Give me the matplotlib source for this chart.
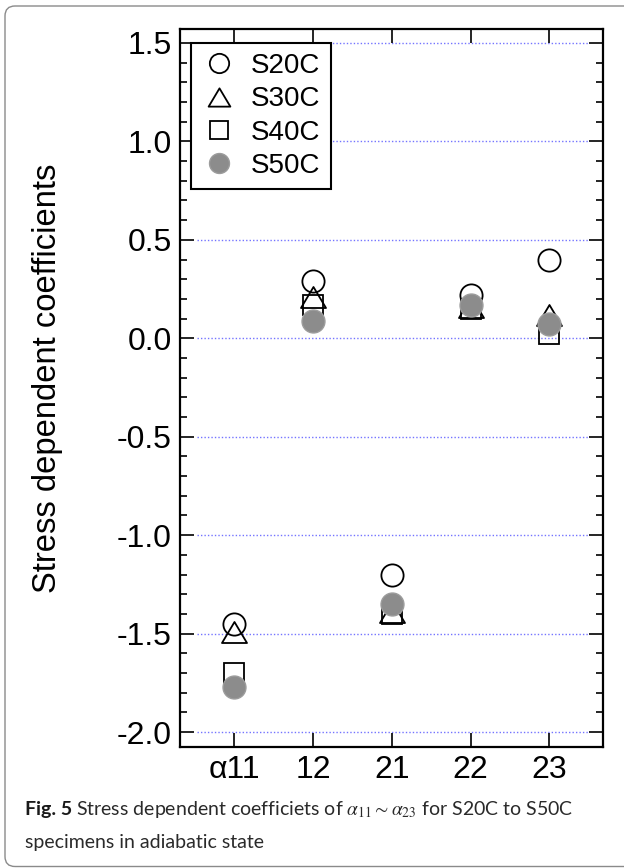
import matplotlib
matplotlib.use('Agg')
import matplotlib.pyplot as plt
from matplotlib.patches import FancyBboxPatch
from matplotlib.ticker import MultipleLocator, FormatStrFormatter
from matplotlib.path import Path

categories = ['α11', '12', '21', '22', '23']
s20c = [-1.45, 0.29, -1.20, 0.22, 0.40]
s30c = [-1.49, 0.21, -1.39, 0.16, 0.12]
s40c = [-1.70, 0.17, -1.40, 0.15, 0.02]
s50c = [-1.77, 0.09, -1.35, 0.17, 0.075]
series_names = ['S20C', 'S30C', 'S40C', 'S50C']
grid_levels = [1.5, 1.0, 0.5, 0.0, -0.5, -1.0, -1.5, -2.0]

plt.rcParams['font.family'] = ['Liberation Sans', 'DejaVu Sans']
plt.rcParams['axes.unicode_minus'] = False
plt.rcParams['mathtext.fontset'] = 'stix'

W, H = 624, 868
fig = plt.figure(figsize=(W / 100, H / 100), dpi=100)
ax = fig.add_axes([180 / W, 1 - 747 / H, 423 / W, 718 / H])

xs = list(range(len(categories)))
tri = Path([(0, 0.42), (-0.5, -0.42), (0.5, -0.42), (0, 0.42)], closed=True)

ax.plot(xs, s20c, ls='none', marker='o', ms=16, mfc='white', mec='black', mew=1.3, label=series_names[0], zorder=3)
ax.plot(xs, s30c, ls='none', marker=tri, ms=18, mfc='none', mec='black', mew=1.3, label=series_names[1], zorder=3)
ax.plot(xs, s40c, ls='none', marker='s', ms=14.4, mfc='none', mec='black', mew=1.3, label=series_names[2], zorder=3)
ax.plot(xs, s50c, ls='none', marker='o', ms=16.5, mfc='#8c8c8c', mec='#9c9c9c', mew=1.0, label=series_names[3], zorder=4)

for g in grid_levels:
    ax.axhline(g, xmin=0.04, xmax=0.965, color='#7474ff', lw=1.0, ls=(0, (1, 1.5)), zorder=1)

ax.set_xlim(-0.69, 4.68)
ax.set_ylim(-2.076, 1.571)
ax.set_xticks(xs)
ax.set_xticklabels(categories)
ax.yaxis.set_major_locator(MultipleLocator(0.5))
ax.yaxis.set_minor_locator(MultipleLocator(0.1))
ax.yaxis.set_major_formatter(FormatStrFormatter('%.1f'))
ax.tick_params(axis='both', which='both', direction='in', top=True, right=True, colors='black')
ax.tick_params(which='major', length=10, width=1.2, labelsize=23, pad=6)
ax.tick_params(which='minor', length=5, width=1.2)
for sp in ax.spines.values():
    sp.set_linewidth(1.6)

leg = ax.legend(loc='upper left', bbox_to_anchor=(0.0253, 0.981), borderaxespad=0,
                fontsize=20, markerscale=0.87, handlelength=1.25, handletextpad=0.55,
                borderpad=0.38, labelspacing=0.26, fancybox=False, framealpha=1,
                edgecolor='black')
leg.get_frame().set_linewidth(1.5)

fig.text(48 / W, 1 - 378 / H, 'Stress dependent coefficients', rotation=90,
         ha='center', va='center', fontsize=23.6)

# caption
cap_font = ['Lato', 'DejaVu Sans']
cap_size = 14.0
t1 = fig.text(25 / W, 1 - 815 / H, 'Fig. 5', fontsize=cap_size, fontweight='bold',
              family=cap_font, color='#1a1a1a', va='baseline')
fig.canvas.draw()
r = fig.canvas.get_renderer()
bb = t1.get_window_extent(r)
fig.text((bb.x1 + 4) / W, 1 - 815 / H,
         r'Stress dependent coefficiets of $\alpha_{11}\sim\alpha_{23}$ for S20C to S50C',
         fontsize=cap_size, family=cap_font, color='#2a2a2a', va='baseline')
fig.text(25 / W, 1 - 848 / H, 'specimens in adiabatic state', fontsize=cap_size,
         family=cap_font, color='#2a2a2a', va='baseline')

box = FancyBboxPatch((5, 1.5), 700, 860.5, boxstyle='round,pad=0,rounding_size=10',
                     transform=None, fill=False, edgecolor='#8a8a8a', lw=1.0)
fig.add_artist(box)

fig.savefig('out.png', dpi=100)
